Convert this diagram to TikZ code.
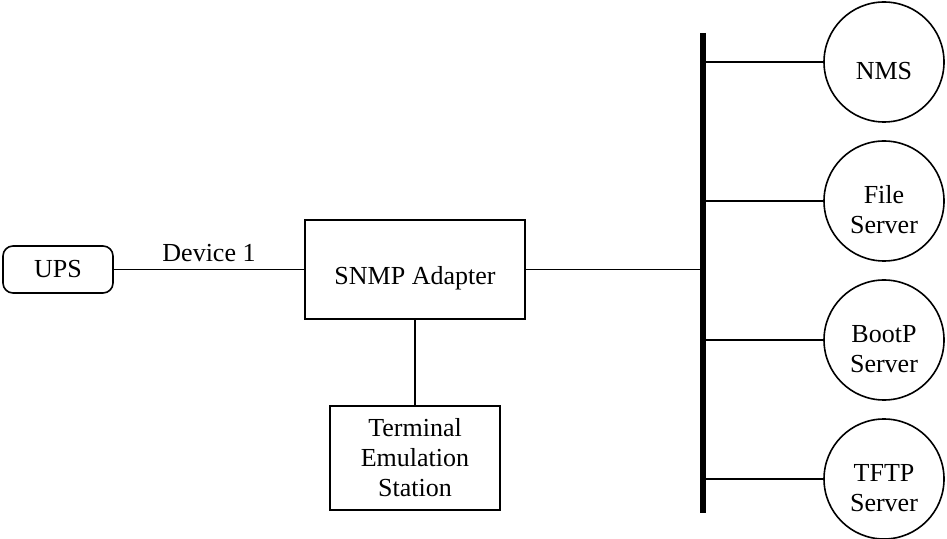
\documentclass[tikz,border=0pt]{standalone}
\usepackage{fontspec}
\setmainfont{Liberation Serif}
\usetikzlibrary{positioning}

\begin{document}
\begin{tikzpicture}[x=0.5pt,y=-0.5pt,line width=0.8pt,node distance=69.5pt,on grid,
   every node/.style={font=\fontsize{13}{15}\selectfont},
   devbox/.style={draw,rounded corners=5pt,minimum width=55pt,minimum height=23.5pt,inner sep=0pt},
   adapterbox/.style={draw,rectangle,minimum width=110pt,minimum height=49.5pt,inner sep=0pt},
   termbox/.style={draw,rectangle,align=center,minimum width=85pt,minimum height=52pt,inner sep=0pt},
   hostcircle/.style={draw,circle,minimum size=60pt,inner sep=0pt},
   inlabel/.style={align=center,yshift=-4.5pt},
   busline/.style={line width=3pt}]
   \useasboundingbox (0,0) rectangle (947,539);

   % the LAN
   \coordinate (bustop) at (703,33);
   \coordinate (busbot) at (703,513);
   \draw[busline] (bustop) -- (busbot);

   \node [devbox] (ups) at (58,269.5) {UPS};
   \node [adapterbox] (snmp) at (415,269.5) {};
   \node [inlabel] (snmptext) at (snmp) {SNMP Adapter};
   \node [termbox] (term) at (415,458) {Terminal\\Emulation\\Station};

   \node [hostcircle] (nms) at (884,62) {};
   \node [hostcircle] (file) [below=of nms] {};
   \node [hostcircle] (bootp) [below=of file] {};
   \node [hostcircle] (tftp) [below=of bootp] {};
   \node [inlabel] (nmstext) at (nms) {NMS};
   \node [inlabel] (filetext) at (file) {File\\Server};
   \node [inlabel] (bootptext) at (bootp) {BootP\\Server};
   \node [inlabel] (tftptext) at (tftp) {TFTP\\Server};

   \draw (ups) -- node[above] (dev) {Device 1} (snmp);
   \draw (snmp) -- (term);
   \draw (snmp) -- (snmp -| bustop);
   \foreach \h in {nms,file,bootp,tftp}
      \draw (\h) -- (\h -| bustop);
\end{tikzpicture}
\end{document}
